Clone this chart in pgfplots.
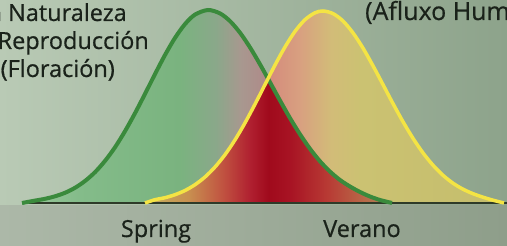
\documentclass[border=0pt]{standalone}
\usepackage{pgfplots}
\usepackage{pgfplotstable}
\pgfplotsset{compat=1.18}
\usepackage{fontspec}
\setmainfont{Open Sans}
\newfontfamily\medfont[FakeBold=0.6]{Open Sans}

\definecolor{bgL}{HTML}{B9CAB5}
\definecolor{bgR}{HTML}{8DA38B}
\definecolor{bbL}{HTML}{ACB8A8}
\definecolor{bbR}{HTML}{8E9E8A}
\definecolor{txt}{HTML}{1A221A}
\definecolor{gline}{HTML}{3A8A3C}
\definecolor{yline}{HTML}{F4E444}
\definecolor{base}{HTML}{2E3A28}

\definecolor{g0}{HTML}{9CC79C}
\definecolor{g1}{HTML}{84BC8A}
\definecolor{g2}{HTML}{7AB37F}
\definecolor{g3}{HTML}{8AA88A}
\definecolor{g4}{HTML}{A8988F}
\definecolor{g5}{HTML}{B08888}

\definecolor{y0}{HTML}{C09060}
\definecolor{y1}{HTML}{D48A7C}
\definecolor{y2}{HTML}{D8A080}
\definecolor{y3}{HTML}{D2BC78}
\definecolor{y4}{HTML}{CBC272}
\definecolor{y5}{HTML}{C4BD6C}

\definecolor{o0}{HTML}{C4B060}
\definecolor{o1}{HTML}{C89050}
\definecolor{o2}{HTML}{C05040}
\definecolor{o3}{HTML}{B02030}
\definecolor{o4}{HTML}{A00A1C}
\definecolor{o5}{HTML}{A81424}
\definecolor{o6}{HTML}{B83A34}
\definecolor{o7}{HTML}{B86848}
\definecolor{o8}{HTML}{A88A5C}

\pgfdeclarehorizontalshading{greenfill}{100bp}{color(0bp)=(g0); color(25bp)=(g0); color(32.6bp)=(g1); color(46.3bp)=(g2); color(51.2bp)=(g3); color(54.6bp)=(g4); color(58.5bp)=(g5); color(100bp)=(g5)}
\pgfdeclarehorizontalshading{yellowfill}{100bp}{color(0bp)=(y0); color(25bp)=(y0); color(42bp)=(y1); color(46.6bp)=(y2); color(50.9bp)=(y3); color(55.1bp)=(y4); color(75bp)=(y5); color(100bp)=(y5)}
\pgfdeclarehorizontalshading{overlapfill}{100bp}{color(0bp)=(o0); color(25bp)=(o0); color(33.75bp)=(o1); color(41bp)=(o2); color(46.25bp)=(o3); color(50bp)=(o4); color(54.6bp)=(o5); color(61.9bp)=(o6); color(69.2bp)=(o7); color(75bp)=(o8); color(100bp)=(o8)}

\pgfplotstableread{
x h
22 0
35 2.4
45 4.2
55 6.7
65 10.2
75 15.2
85 22.0
95 30.8
105 42.1
115 55.7
125 71.8
135 89.8
145 109.1
155 128.9
165 148.0
175 165.1
185 178.9
195 188.4
208 193
220 189.6
230 181.9
240 170.3
250 155.6
260 138.7
270 120.7
280 102.5
290 84.9
300 68.7
310 54.2
320 41.7
330 31.4
340 23.0
350 16.5
360 11.0
370 6.5
380 3.0
390 0.5
392 0
}\greencurve

\pgfplotstableread{
x h
145 0
155 3.3
165 5.3
175 8.3
185 12.5
195 18.3
205 26.0
215 36.0
225 48.3
235 63.1
245 80.1
255 98.8
265 118.4
275 137.9
285 156.0
295 171.6
305 183.3
315 190.2
323 192
333 189.4
343 182.0
353 170.1
363 154.9
373 137.2
383 118.4
393 99.4
403 81.3
413 64.7
423 50.1
433 37.8
443 27.7
453 19.8
463 13.8
473 9.3
483 5.8
493 2.8
502 0.5
504 0
}\yellowcurve

\pgfplotstableread{
x h
145 0
155 3.3
165 5.3
175 8.3
185 12.5
195 18.3
205 26.0
215 36.0
225 48.3
235 63.1
245 80.1
255 98.8
265 118.4
268 124.3
270 120.7
280 102.5
290 84.9
300 68.7
310 54.2
320 41.7
330 31.4
340 23.0
350 16.5
360 11.0
370 6.5
380 3.0
390 0.5
392 0
}\overlapcurve

\begin{document}
\begin{tikzpicture}[x=1pt,y=1pt]
\useasboundingbox (0,0) rectangle (507,246);
\clip (0,0) rectangle (507,246);
\shade[left color=bgL, right color=bgR] (0,0) rectangle (507,246);
\shade[left color=bbL, right color=bbR] (0,0) rectangle (507,40);
\begin{axis}[at={(0,0)}, anchor=south west, scale only axis,
  width=507pt, height=246pt, xmin=0, xmax=507, ymin=-43, ymax=203,
  hide axis, clip=false]
\addplot[draw=none, shade, shading=greenfill, smooth] table[x=x,y=h] {\greencurve} \closedcycle;
\addplot[draw=none, shade, shading=yellowfill, smooth] table[x=x,y=h] {\yellowcurve} \closedcycle;
\addplot[draw=none, shade, shading=overlapfill, smooth] table[x=x,y=h] {\overlapcurve} \closedcycle;
\addplot[base, line width=2.5pt] coordinates {(23,0) (507,0)};
\addplot[gline, line width=4pt, smooth] table[x=x,y=h] {\greencurve};
\addplot[yline, line width=3.5pt, smooth] table[x=x,y=h] {\yellowcurve};
\end{axis}
\begin{scope}[every node/.style={inner sep=0pt, text=txt, font=\medfont\fontsize{23.5}{27}\selectfont}]
\node[anchor=base east] at (127,225) {La Naturaleza};
\node[anchor=base east] at (149,197) {(Reproducción};
\node[anchor=base east] at (115,169) {(Floración)};
\node[anchor=base west, font=\medfont\fontsize{25}{29}\selectfont] at (365,226) {(Afluxo Humano)};
\node[anchor=base] at (156,9) {Spring};
\node[anchor=base] at (362,9) {Verano};
\end{scope}
\end{tikzpicture}
\end{document}
